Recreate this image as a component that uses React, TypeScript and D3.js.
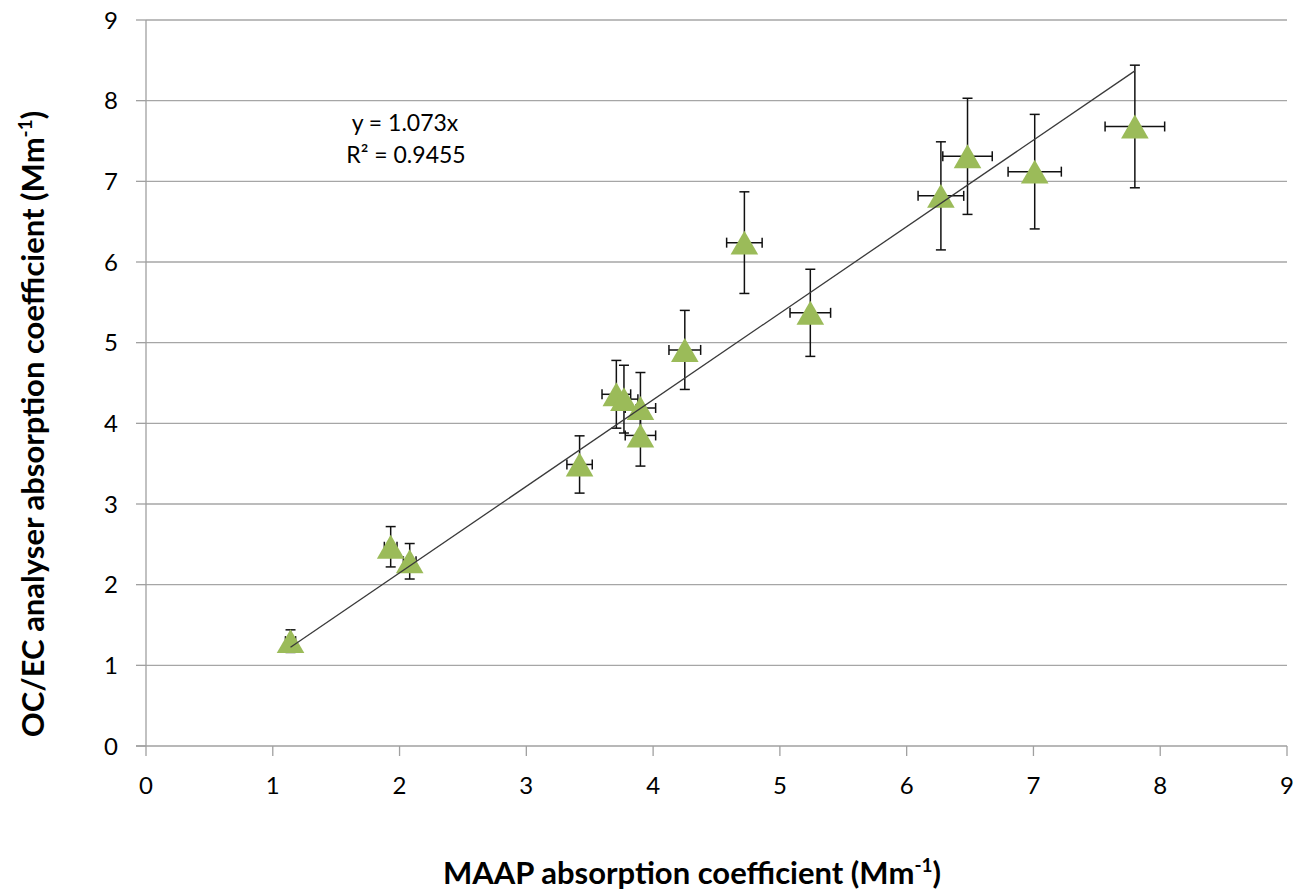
import React from "react";
import * as d3 from "d3";

const xVals = [1.14, 1.93, 2.08, 3.42, 3.71, 3.77, 3.9, 3.9, 4.25, 4.72, 5.24, 6.27, 6.48, 7.01, 7.8];
const yVals = [1.3, 2.47, 2.29, 3.49, 4.36, 4.3, 4.19, 3.85, 4.91, 6.24, 5.37, 6.82, 7.31, 7.12, 7.68];
const yErr = [0.14, 0.25, 0.22, 0.355, 0.42, 0.42, 0.44, 0.38, 0.49, 0.63, 0.54, 0.67, 0.72, 0.71, 0.76];
const xErr = [0.04, 0.05, 0.05, 0.1, 0.113, 0.11, 0.12, 0.12, 0.125, 0.14, 0.16, 0.18, 0.195, 0.21, 0.235];
const xTicks = [0, 1, 2, 3, 4, 5, 6, 7, 8, 9];
const yTicks = [0, 1, 2, 3, 4, 5, 6, 7, 8, 9];
const slope = 1.073;
const eqLabel = "y = 1.073x";
const r2Label = "0.9455";

const W = 1297;
const H = 891;
const FONT = "Lato, 'Open Sans', sans-serif";

export default function App() {
  const x = d3.scaleLinear().domain([0, 9]).range([146, 1287]);
  const y = d3.scaleLinear().domain([0, 9]).range([746, 20]);
  const xMin = d3.min(xVals) as number;
  const xMax = d3.max(xVals) as number;
  const trend = d3.line<number>().x((v) => x(v)).y((v) => y(slope * v));
  const triSize = 330;
  const tri = d3.symbol().type(d3.symbolTriangle).size(triSize);
  const triH = Math.sqrt((triSize * 4) / Math.sqrt(3)) * (Math.sqrt(3) / 2);
  const triShift = triH / 6;
  const cap = 5;

  return (
    <svg
      width={W}
      height={H}
      style={{ position: "absolute", left: 0, top: 0, background: "#fff" }}
      fontFamily={FONT}
    >
      {/* gridlines */}
      {yTicks.slice(1).map((t) => (
        <line key={"g" + t} x1={x(0)} x2={x(9)} y1={y(t)} y2={y(t)} stroke="#a6a6a6" strokeWidth={1.3} />
      ))}
      {/* axes */}
      <line x1={x(0)} x2={x(0)} y1={y(0)} y2={y(9)} stroke="#a0a0a0" strokeWidth={1.3} />
      <line x1={x(0) - 10} x2={x(9)} y1={y(0)} y2={y(0)} stroke="#a0a0a0" strokeWidth={1.3} />
      {yTicks.map((t) => (
        <g key={"yt" + t}>
          <line x1={x(0) - 10} x2={x(0)} y1={y(t)} y2={y(t)} stroke="#a0a0a0" strokeWidth={1.3} />
          <text x={118} y={y(t) + 8.5} textAnchor="end" fontSize={24} fill="#000">
            {t}
          </text>
        </g>
      ))}
      {xTicks.map((t) => (
        <g key={"xt" + t}>
          <line x1={x(t)} x2={x(t)} y1={y(0)} y2={y(0) + 10} stroke="#a0a0a0" strokeWidth={1.3} />
          <text x={x(t)} y={794} textAnchor="middle" fontSize={24} fill="#000">
            {t}
          </text>
        </g>
      ))}
      {/* error bars */}
      {xVals.map((xv, i) => {
        const cx = x(xv);
        const cy = y(yVals[i]);
        const y1 = y(yVals[i] + yErr[i]);
        const y2 = y(yVals[i] - yErr[i]);
        const x1 = x(xv - xErr[i]);
        const x2 = x(xv + xErr[i]);
        return (
          <g key={"e" + i} stroke="#111" strokeWidth={1.5}>
            <line x1={cx} x2={cx} y1={y1} y2={y2} />
            <line x1={cx - cap} x2={cx + cap} y1={y1} y2={y1} />
            <line x1={cx - cap} x2={cx + cap} y1={y2} y2={y2} />
            <line x1={x1} x2={x2} y1={cy} y2={cy} />
            <line x1={x1} x2={x1} y1={cy - cap} y2={cy + cap} />
            <line x1={x2} x2={x2} y1={cy - cap} y2={cy + cap} />
          </g>
        );
      })}
      {/* markers */}
      {xVals.map((xv, i) => (
        <path
          key={"m" + i}
          d={tri() as string}
          transform={`translate(${x(xv)},${y(yVals[i]) + triShift})`}
          fill="#9bbb59"
        />
      ))}
      {/* trendline */}
      <path d={trend([xMin, xMax]) as string} stroke="#3a3a3a" strokeWidth={1.3} fill="none" />
      {/* equation */}
      <text x={405} y={131} textAnchor="middle" fontSize={23} fill="#000">
        {eqLabel}
      </text>
      <text x={406} y={163} textAnchor="middle" fontSize={23} fill="#000">
        R² = {r2Label}
      </text>
      {/* axis titles */}
      <text x={692} y={884} textAnchor="middle" fontSize={31} fontWeight="bold" fill="#000">
        MAAP absorption coefficient (Mm
        <tspan fontSize={19} dy={-12}>-1</tspan>
        <tspan dy={12}>)</tspan>
      </text>
      <text
        transform={`translate(44,424) rotate(-90)`}
        textAnchor="middle"
        fontSize={31}
        fontWeight="bold"
        fill="#000"
      >
        OC/EC analyser absorption coefficient (Mm
        <tspan fontSize={19} dy={-12}>-1</tspan>
        <tspan dy={12}>)</tspan>
      </text>
    </svg>
  );
}
